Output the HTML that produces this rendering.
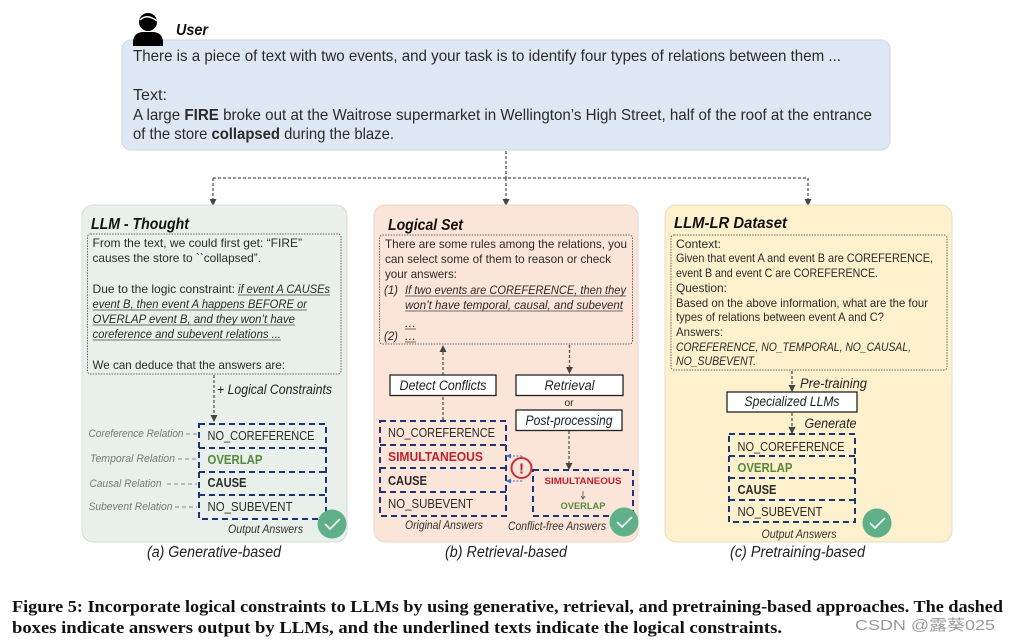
<!DOCTYPE html>
<html>
<head>
<meta charset="utf-8">
<style>
html,body{margin:0;padding:0;background:#fff;width:1009px;height:643px;overflow:hidden}
svg{display:block;filter:blur(.35px)}
text{font-family:"Liberation Sans",sans-serif;fill:#2a2a2a;font-size:12px}
.t{font-size:16px}
.i{font-style:italic}
.b{font-weight:bold}
.h{font-size:16px;font-weight:bold;font-style:italic;fill:#111}
.cap{font-size:15.5px;font-style:italic;fill:#222}
.a{font-size:12.5px}
.g{fill:#54883a;font-weight:bold}
.r{fill:#c3202c;font-weight:bold}
.lab{font-size:11px;font-style:italic;fill:#777}
.o{font-size:11.5px;font-style:italic;fill:#333}
.s{font-size:13.5px;font-style:italic;fill:#222}
.f{font-family:"Liberation Serif",serif;font-weight:bold;font-size:17px;fill:#111}
.dash{fill:none;stroke:#555;stroke-width:1.3;stroke-dasharray:3 2}
.dot{fill:none;stroke:#666;stroke-width:1;stroke-dasharray:1.5 1.2}
.nv{fill:none;stroke:#1d3573;stroke-width:2;stroke-dasharray:6 4}
.lbd{fill:none;stroke:#888;stroke-width:1;stroke-dasharray:4 3}
.bx{fill:#fff;stroke:#222;stroke-width:1.3}
.u{fill:none;stroke:#444;stroke-width:.8}
</style>
</head>
<body>
<svg width="1009" height="643" viewBox="0 0 1009 643" xmlns="http://www.w3.org/2000/svg">
<defs>
<marker id="bl" markerWidth="6" markerHeight="5" refX="5" refY="2.5" orient="auto" markerUnits="userSpaceOnUse"><path d="M0 0L5 2.5L0 5Z" fill="#3a6fd0"/></marker>
</defs>

<!-- user prompt -->
<rect x="122" y="40" width="768" height="110" rx="9" fill="#dde8f4" stroke="#ccd6e2"/>
<circle cx="148" cy="22" r="9" fill="#000"/>
<path d="M140 20Q147 13 157 21" stroke="#fff" stroke-width="1.5" fill="none"/>
<path d="M133 46V41Q134 33 142 32H154Q162 33 163 41V46Z" fill="#000"/>
<text x="176" y="35" class="h" textLength="32" lengthAdjust="spacingAndGlyphs">User</text>
<text x="133" y="61" class="t" textLength="708" lengthAdjust="spacingAndGlyphs">There is a piece of text with two events, and your task is to identify four types of relations between them ...</text>
<text x="133" y="100" class="t" textLength="34" lengthAdjust="spacingAndGlyphs">Text:</text>
<text x="133" y="120" class="t" textLength="739" lengthAdjust="spacingAndGlyphs">A large <tspan class="b">FIRE</tspan> broke out at the Waitrose supermarket in Wellington’s High Street, half of the roof at the entrance</text>
<text x="133" y="139" class="t" textLength="261" lengthAdjust="spacingAndGlyphs">of the store <tspan class="b">collapsed</tspan> during the blaze.</text>

<!-- top connectors -->
<path class="dash" d="M506 151V178M213 178H808M213 178V205M506 178V205M808 178V205"/>
<path d="M209.500 199L216.500 199L213 206ZM502.500 199L509.500 199L506 206ZM804.500 199L811.500 199L808 206Z" fill="#444"/>

<!-- panel a -->
<rect x="82" y="205" width="265" height="337" rx="11" fill="#e9f0ec" stroke="#d6dcd8"/>
<text x="91" y="229" class="h" textLength="98" lengthAdjust="spacingAndGlyphs">LLM - Thought</text>
<rect x="87.500" y="234" width="253.500" height="140" rx="3" class="dot"/>
<text x="92.500" y="247" textLength="209.500" lengthAdjust="spacingAndGlyphs">From the text, we could first get: “FIRE”</text>
<text x="92.500" y="262" textLength="168.500" lengthAdjust="spacingAndGlyphs">causes the store to ``collapsed”.</text>
<text x="92.500" y="293" textLength="142.500" lengthAdjust="spacingAndGlyphs">Due to the logic constraint:</text>
<text x="238" y="293" class="i" textLength="92" lengthAdjust="spacingAndGlyphs">if event A CAUSEs</text>
<text x="92.500" y="308" class="i" textLength="214.500" lengthAdjust="spacingAndGlyphs">event B, then event A happens BEFORE or</text>
<text x="92.500" y="323" class="i" textLength="202.500" lengthAdjust="spacingAndGlyphs">OVERLAP event B, and they won’t have</text>
<text x="92.500" y="338" class="i" textLength="188.500" lengthAdjust="spacingAndGlyphs">coreference and subevent relations ...</text>
<path class="u" d="M238 295H330M92.500 310H307M92.500 325H295M92.500 340H281"/>
<text x="92.500" y="369" textLength="192.500" lengthAdjust="spacingAndGlyphs">We can deduce that the answers are:</text>
<path class="dash" d="M214 375V416"/>
<path d="M210.500 415L217.500 415L214 422Z" fill="#444"/>
<text x="217" y="394" class="s" textLength="115" lengthAdjust="spacingAndGlyphs">+ Logical Constraints</text>
<rect x="199" y="424" width="127" height="95" class="nv"/>
<path class="nv" d="M199 448H326M199 472H326M199 495H326"/>
<text x="207.500" y="440" class="a" textLength="107" lengthAdjust="spacingAndGlyphs">NO_COREFERENCE</text>
<text x="207.500" y="464" class="a g" textLength="55" lengthAdjust="spacingAndGlyphs">OVERLAP</text>
<text x="207.500" y="487" class="a b" textLength="39" lengthAdjust="spacingAndGlyphs">CAUSE</text>
<text x="207.500" y="511" class="a" textLength="85" lengthAdjust="spacingAndGlyphs">NO_SUBEVENT</text>
<text x="88.500" y="437" class="lab" textLength="95" lengthAdjust="spacingAndGlyphs">Coreference Relation</text>
<text x="90" y="462" class="lab" textLength="85" lengthAdjust="spacingAndGlyphs">Temporal Relation</text>
<text x="89.500" y="487" class="lab" textLength="72" lengthAdjust="spacingAndGlyphs">Causal Relation</text>
<text x="88.500" y="510" class="lab" textLength="84" lengthAdjust="spacingAndGlyphs">Subevent Relation</text>
<path class="lbd" d="M186 434H198M178 459H197M167 484H197M175 507H197"/>
<text x="228" y="533" class="o" textLength="75" lengthAdjust="spacingAndGlyphs">Output Answers</text>
<circle cx="332" cy="524" r="14.500" fill="#5fb088"/>
<path d="M325 524L330 529L340 519" fill="none" stroke="#fff" stroke-width="1.6"/>
<text x="147" y="557" class="cap" textLength="134" lengthAdjust="spacingAndGlyphs">(a) Generative-based</text>

<!-- panel b -->
<rect x="374" y="205" width="264" height="337" rx="11" fill="#fbe5d8" stroke="#e6d6cc"/>
<text x="388" y="230" class="h" textLength="75" lengthAdjust="spacingAndGlyphs">Logical Set</text>
<rect x="379.500" y="235" width="253" height="109" rx="3" class="dot"/>
<text x="385" y="248" textLength="242" lengthAdjust="spacingAndGlyphs">There are some rules among the relations, you</text>
<text x="385" y="263" textLength="226" lengthAdjust="spacingAndGlyphs">can select some of them to reason or check</text>
<text x="385" y="278" textLength="72" lengthAdjust="spacingAndGlyphs">your answers:</text>
<text x="384" y="294" class="i" textLength="14" lengthAdjust="spacingAndGlyphs">(1)</text>
<text x="405" y="294" class="i" textLength="221" lengthAdjust="spacingAndGlyphs">If two events are COREFERENCE, then they</text>
<text x="405" y="309" class="i" textLength="218" lengthAdjust="spacingAndGlyphs">won’t have temporal, causal, and subevent</text>
<text x="405" y="327" class="i" textLength="11" lengthAdjust="spacingAndGlyphs">...</text>
<text x="384" y="340" class="i" textLength="14" lengthAdjust="spacingAndGlyphs">(2)</text>
<text x="405" y="340" class="i" textLength="11" lengthAdjust="spacingAndGlyphs">...</text>
<path class="u" d="M405 296H626M405 311H623M405 329H416M405 342H416"/>
<path class="dash" d="M443 420V350M569.500 345V368M569 431V463"/>
<path d="M439.500 352L446.500 352L443 345ZM566 367L573 367L569.500 374ZM565.500 463L572.500 463L569 470Z" fill="#444"/>
<rect x="390" y="375" width="106" height="20.500" class="bx"/>
<text x="443" y="390" class="s" text-anchor="middle" textLength="87" lengthAdjust="spacingAndGlyphs">Detect Conflicts</text>
<rect x="516" y="375" width="107" height="20.500" class="bx"/>
<text x="569.500" y="390" class="s" text-anchor="middle" textLength="50" lengthAdjust="spacingAndGlyphs">Retrieval</text>
<text x="569" y="406" text-anchor="middle" style="font-size:10.500px">or</text>
<rect x="516" y="410" width="106" height="20.500" class="bx"/>
<text x="569" y="425" class="s" text-anchor="middle" textLength="87" lengthAdjust="spacingAndGlyphs">Post-processing</text>
<rect x="380" y="421" width="126" height="95" class="nv"/>
<path class="nv" d="M380 445H506M380 468H506M380 492H506"/>
<text x="388" y="437" class="a" textLength="107" lengthAdjust="spacingAndGlyphs">NO_COREFERENCE</text>
<text x="388" y="461" class="a r" textLength="95" lengthAdjust="spacingAndGlyphs">SIMULTANEOUS</text>
<text x="388" y="485" class="a b" textLength="39" lengthAdjust="spacingAndGlyphs">CAUSE</text>
<text x="388" y="508" class="a" textLength="85" lengthAdjust="spacingAndGlyphs">NO_SUBEVENT</text>
<rect x="533" y="470" width="100" height="46" class="nv"/>
<text x="583" y="484" text-anchor="middle" class="r" style="font-size:9.500px" textLength="77" lengthAdjust="spacingAndGlyphs">SIMULTANEOUS</text>
<path d="M583 491V498M581 496L583 499L585 496" fill="none" stroke="#555" stroke-width=".8"/>
<text x="583" y="509" text-anchor="middle" class="g" style="font-size:9.500px" textLength="45" lengthAdjust="spacingAndGlyphs">OVERLAP</text>
<path d="M522 456H506" fill="none" stroke="#3a6fd0" stroke-width="1" stroke-dasharray="2 1.500" marker-end="url(#bl)"/>
<path d="M522 481H506" fill="none" stroke="#3a6fd0" stroke-width="1" stroke-dasharray="2 1.500" marker-end="url(#bl)"/>
<path d="M522 456V481" fill="none" stroke="#3a6fd0" stroke-width="1" stroke-dasharray="2 1.500"/>
<circle cx="521.500" cy="468" r="10" fill="#f7e3da" stroke="#c8303a" stroke-width="2"/>
<text x="521.500" y="473.500" text-anchor="middle" class="r" style="font-size:15px">!</text>
<text x="405" y="529" class="o" textLength="78" lengthAdjust="spacingAndGlyphs">Original Answers</text>
<text x="508" y="530" class="o" textLength="98" lengthAdjust="spacingAndGlyphs">Conflict-free Answers</text>
<circle cx="624" cy="522" r="14.500" fill="#5fb088"/>
<path d="M617 522L622 527L632 517" fill="none" stroke="#fff" stroke-width="1.6"/>
<text x="445" y="557" class="cap" textLength="122" lengthAdjust="spacingAndGlyphs">(b) Retrieval-based</text>

<!-- panel c -->
<rect x="665" y="205" width="287" height="337" rx="11" fill="#fdf0cd" stroke="#e8dcc0"/>
<text x="674" y="228" class="h" textLength="113" lengthAdjust="spacingAndGlyphs">LLM-LR Dataset</text>
<rect x="671" y="235" width="276" height="135" rx="3" class="dot"/>
<text x="676" y="248" textLength="45" lengthAdjust="spacingAndGlyphs">Context:</text>
<text x="676" y="262" textLength="257" lengthAdjust="spacingAndGlyphs">Given that event A and event B are COREFERENCE,</text>
<text x="676" y="277" textLength="202" lengthAdjust="spacingAndGlyphs">event B and event C are COREFERENCE.</text>
<text x="676" y="292" textLength="51" lengthAdjust="spacingAndGlyphs">Question:</text>
<text x="676" y="307" textLength="252" lengthAdjust="spacingAndGlyphs">Based on the above information, what are the four</text>
<text x="676" y="321" textLength="208" lengthAdjust="spacingAndGlyphs">types of relations between event A and C?</text>
<text x="676" y="336" textLength="47" lengthAdjust="spacingAndGlyphs">Answers:</text>
<text x="676" y="351" class="i" textLength="235" lengthAdjust="spacingAndGlyphs">COREFERENCE, NO_TEMPORAL, NO_CAUSAL,</text>
<text x="676" y="365" class="i" textLength="80" lengthAdjust="spacingAndGlyphs">NO_SUBEVENT.</text>
<path class="dash" d="M792 371V386M792 413V428"/>
<path d="M788.500 385L795.500 385L792 392ZM788.500 427L795.500 427L792 434Z" fill="#444"/>
<text x="800" y="388" class="s" textLength="67" lengthAdjust="spacingAndGlyphs">Pre-training</text>
<rect x="727" y="392" width="130" height="20" class="bx"/>
<text x="792" y="406" class="s" text-anchor="middle" textLength="95" lengthAdjust="spacingAndGlyphs">Specialized LLMs</text>
<text x="804.500" y="428" class="s" textLength="52" lengthAdjust="spacingAndGlyphs">Generate</text>
<rect x="729" y="434" width="126" height="88" class="nv"/>
<path class="nv" d="M729 456H855M729 478H855M729 500H855"/>
<text x="737.500" y="451" class="a" textLength="107" lengthAdjust="spacingAndGlyphs">NO_COREFERENCE</text>
<text x="737.500" y="472" class="a g" textLength="55" lengthAdjust="spacingAndGlyphs">OVERLAP</text>
<text x="737.500" y="494" class="a b" textLength="39" lengthAdjust="spacingAndGlyphs">CAUSE</text>
<text x="737.500" y="516" class="a" textLength="85" lengthAdjust="spacingAndGlyphs">NO_SUBEVENT</text>
<text x="761.500" y="538" class="o" textLength="75" lengthAdjust="spacingAndGlyphs">Output Answers</text>
<circle cx="877" cy="523" r="14.500" fill="#5fb088"/>
<path d="M870 523L875 528L885 518" fill="none" stroke="#fff" stroke-width="1.6"/>
<text x="730" y="557" class="cap" textLength="135" lengthAdjust="spacingAndGlyphs">(c) Pretraining-based</text>

<!-- footer -->
<text x="12" y="612" class="f" textLength="991" lengthAdjust="spacingAndGlyphs">Figure 5: Incorporate logical constraints to LLMs by using generative, retrieval, and pretraining-based approaches. The dashed</text>
<text x="12" y="633" class="f" textLength="770" lengthAdjust="spacingAndGlyphs">boxes indicate answers output by LLMs, and the underlined texts indicate the logical constraints.</text>
<text x="855" y="630" style='font-family:"Liberation Sans","Noto Sans CJK SC",sans-serif;font-size:15px;fill:#9a9a9a' textLength="140" lengthAdjust="spacingAndGlyphs">CSDN @露葵025</text>
</svg>
</body>
</html>
